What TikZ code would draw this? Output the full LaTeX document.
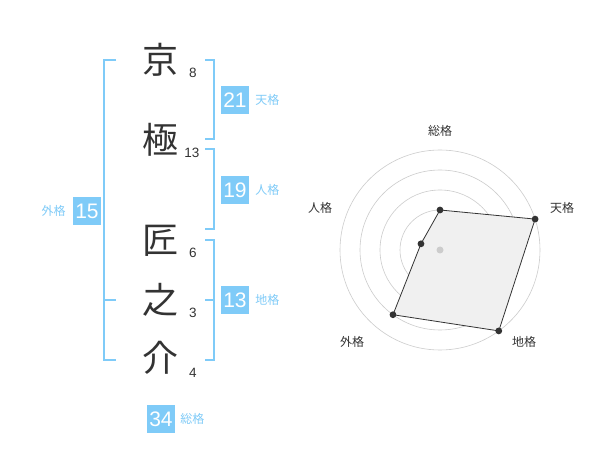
\documentclass[tikz,border=0pt]{standalone}
\usepackage{fontspec}
\setmainfont{Liberation Sans}
\newfontfamily\jp{Noto Sans CJK JP}
\usetikzlibrary{positioning}
\definecolor{kakublue}{HTML}{7FCBF8}
\definecolor{ink}{HTML}{333333}
\definecolor{ring}{HTML}{CCCCCC}
\tikzstyle{kanji}=[inner sep=0pt,text=ink,font=\jp\fontsize{36}{36}\selectfont]
\tikzstyle{strokes}=[inner sep=0pt,text=ink,font=\fontsize{13.5}{13.5}\selectfont]
\tikzstyle{bracket}=[kakublue,line width=2pt]
\tikzstyle{kakubox}=[fill=kakublue,text=white,minimum size=28pt,inner sep=0pt,font=\fontsize{21}{21}\selectfont]
\tikzstyle{kakuname}=[text=kakublue,inner sep=0pt,font=\jp\fontsize{12}{12}\selectfont]
\tikzstyle{axisname}=[text=ink,inner sep=0pt,font=\jp\fontsize{12}{12}\selectfont]

\begin{document}
\begin{tikzpicture}[x=1pt,y=-1pt]
            \useasboundingbox[fill=white] (0,0) rectangle (600,470);
            % name characters and stroke counts
            \node[kanji] (k1) at (160,60) {京};
            \node[kanji] (k2) at (160,140) {極};
            \node[kanji] (k3) at (160,241) {匠};
            \node[kanji] (k4) at (160,300) {之};
            \node[kanji] (k5) at (160,358) {介};
            \node[strokes] (s1) at (193,73) {8};
            \node[strokes] (s2) at (192,153) {13};
            \node[strokes] (s3) at (193,253) {6};
            \node[strokes] (s4) at (193,313) {3};
            \node[strokes] (s5) at (193,373) {4};
            % brackets
            \def\lx{104}
            \def\rx{214}
            \draw[bracket] (116,60) -- (\lx,60) -- (\lx,360) -- (116,360);
            \draw[bracket] (\lx,300) -- (116,300);
            \draw[bracket] (205,60) -- (\rx,60) -- (\rx,139) -- (205,139);
            \draw[bracket] (205,149) -- (\rx,149) -- (\rx,229) -- (205,229);
            \draw[bracket] (205,240) -- (\rx,240) -- (\rx,360) -- (205,360);
            \draw[bracket] (205,300) -- (\rx,300);
            % kaku values
            \node[kakubox] (ten) at (235,100) {21};
            \node[kakuname, right=6pt of ten] (tenname) {天格};
            \node[kakubox] (jin) at (235,190) {19};
            \node[kakuname, right=6pt of jin] (jinname) {人格};
            \node[kakubox] (chi) at (235,300) {13};
            \node[kakuname, right=6pt of chi] (chiname) {地格};
            \node[kakubox] (gai) at (87,211) {15};
            \node[kakuname, left=7pt of gai] (gainame) {外格};
            \node[kakubox] (sou) at (161,419) {34};
            \node[kakuname, right=5pt of sou] (souname) {総格};
            % radar chart
            \begin{scope}[shift={(440,250)},x=1pt,y=1pt]
                \foreach \r in {20,40,60,80,100}
                    \draw[ring,line width=0.6pt] (0,0) circle (\r);
                \coordinate (pSou) at (90:40);
                \coordinate (pTen) at (18:100);
                \coordinate (pChi) at (-54:100);
                \coordinate (pGai) at (234:80);
                \coordinate (pJin) at (162:20);
                \fill[black!6] (pSou) -- (pTen) -- (pChi) -- (pGai) -- (pJin) -- cycle;
                \fill[ring] (0,0) circle (3.5);
                \draw[ink,line width=0.8pt] (pSou) -- (pTen) -- (pChi) -- (pGai) -- (pJin) -- cycle;
                \foreach \p in {pSou,pTen,pChi,pGai,pJin}
                    \fill[ink] (\p) circle (3.4);
            \end{scope}
            \node[axisname] (aSou) at (440,131) {総格};
            \node[axisname] (aTen) at (562,208) {天格};
            \node[axisname] (aChi) at (524,342) {地格};
            \node[axisname] (aGai) at (352,342) {外格};
            \node[axisname] (aJin) at (320,208) {人格};
        \end{tikzpicture}
\end{document}
